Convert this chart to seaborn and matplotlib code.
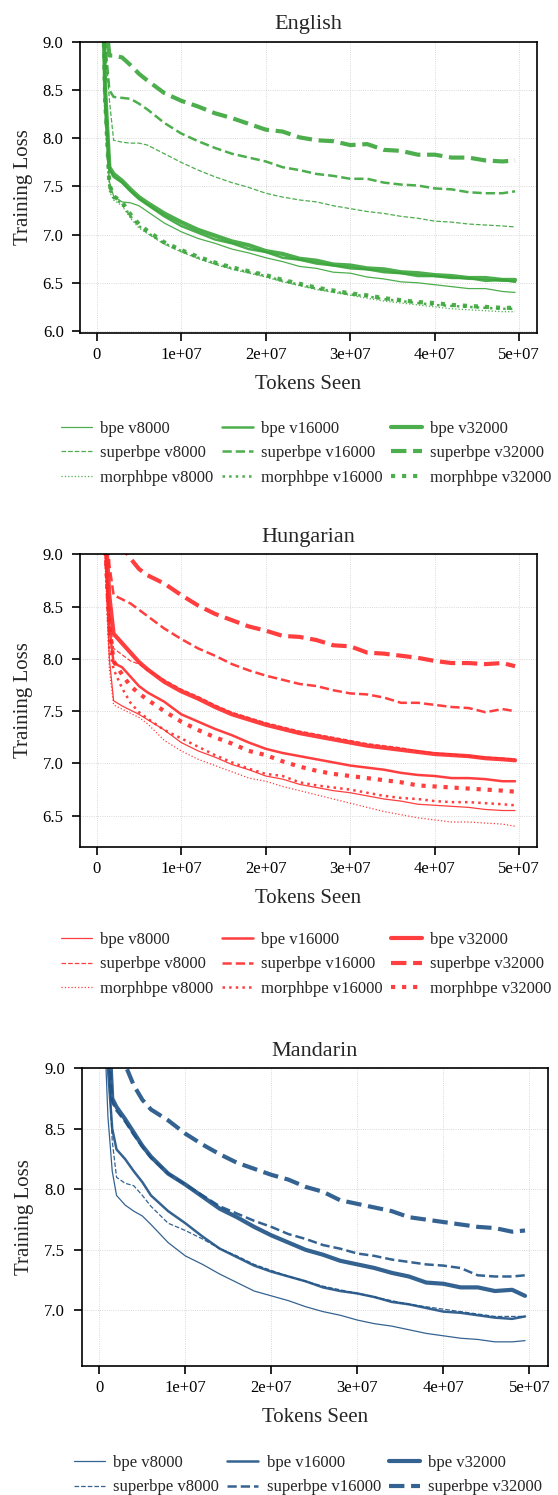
import matplotlib
matplotlib.use("Agg")
import matplotlib.pyplot as plt
import seaborn as sns
from matplotlib.ticker import FuncFormatter, FixedLocator

# ---------------- data ----------------
tokens = [0.5e6, 1.0e6, 1.5e6, 2e6, 3e6, 4e6, 5e6, 6e6, 8e6, 10e6, 12e6, 14e6, 16e6, 18e6,
          20e6, 22e6, 24e6, 26e6, 28e6, 30e6, 32e6, 34e6, 36e6, 38e6, 40e6, 42e6, 44e6,
          46e6, 48e6, 49.5e6]

# English
en_bpe_8000 = [10.4, 8.4, 7.55, 7.40, 7.34, 7.33, 7.30, 7.24, 7.12, 7.03, 6.96, 6.91, 6.85, 6.81,
               6.76, 6.72, 6.67, 6.65, 6.61, 6.60, 6.56, 6.54, 6.51, 6.50, 6.48, 6.46, 6.44, 6.44, 6.41, 6.40]
en_bpe_16000 = [10.5, 8.4, 7.68, 7.60, 7.54, 7.45, 7.37, 7.31, 7.19, 7.09, 7.02, 6.95, 6.91, 6.85,
                6.82, 6.76, 6.74, 6.70, 6.68, 6.65, 6.64, 6.61, 6.60, 6.57, 6.57, 6.55, 6.55, 6.52, 6.53, 6.51]
en_bpe_32000 = [10.5, 8.5, 7.70, 7.63, 7.56, 7.47, 7.39, 7.33, 7.22, 7.13, 7.05, 6.99, 6.93, 6.89,
                6.83, 6.80, 6.75, 6.73, 6.69, 6.68, 6.65, 6.64, 6.61, 6.60, 6.58, 6.57, 6.55, 6.55, 6.53, 6.53]
en_super_8000 = [10.4, 9.0, 8.40, 7.98, 7.96, 7.95, 7.95, 7.93, 7.84, 7.75, 7.67, 7.60, 7.54, 7.49,
                 7.43, 7.39, 7.36, 7.34, 7.30, 7.27, 7.24, 7.22, 7.19, 7.17, 7.14, 7.13, 7.11, 7.10, 7.09, 7.08]
en_super_16000 = [10.5, 9.0, 8.50, 8.43, 8.42, 8.41, 8.36, 8.30, 8.16, 8.05, 7.97, 7.90, 7.84, 7.80,
                  7.76, 7.70, 7.67, 7.63, 7.61, 7.58, 7.58, 7.54, 7.52, 7.51, 7.48, 7.47, 7.44, 7.43, 7.43, 7.45]
en_super_32000 = [10.6, 9.3, 8.86, 8.86, 8.84, 8.76, 8.67, 8.60, 8.47, 8.39, 8.33, 8.26, 8.21, 8.15,
                  8.09, 8.07, 8.01, 7.98, 7.97, 7.93, 7.94, 7.88, 7.87, 7.83, 7.83, 7.80, 7.80, 7.77, 7.76, 7.77]
en_morph_8000 = [10.3, 8.3, 7.45, 7.36, 7.30, 7.17, 7.07, 7.01, 6.90, 6.82, 6.75, 6.69, 6.64, 6.60,
                 6.56, 6.51, 6.47, 6.43, 6.40, 6.37, 6.34, 6.31, 6.29, 6.27, 6.25, 6.23, 6.22, 6.21, 6.20, 6.20]
en_morph_16000 = [10.4, 8.3, 7.48, 7.38, 7.32, 7.19, 7.09, 7.02, 6.91, 6.83, 6.76, 6.70, 6.65, 6.61,
                  6.57, 6.52, 6.48, 6.44, 6.41, 6.38, 6.36, 6.33, 6.31, 6.29, 6.27, 6.26, 6.25, 6.24, 6.23, 6.23]
en_morph_32000 = [10.4, 8.4, 7.52, 7.40, 7.34, 7.21, 7.11, 7.04, 6.92, 6.84, 6.77, 6.71, 6.66, 6.62,
                  6.58, 6.53, 6.49, 6.45, 6.42, 6.39, 6.37, 6.34, 6.32, 6.30, 6.29, 6.27, 6.26, 6.25, 6.24, 6.24]

# Hungarian
hu_bpe_8000 = [10.3, 9.0, 8.0, 7.60, 7.55, 7.51, 7.47, 7.42, 7.32, 7.20, 7.12, 7.06, 6.99, 6.94,
               6.88, 6.85, 6.80, 6.77, 6.74, 6.72, 6.69, 6.66, 6.64, 6.61, 6.60, 6.59, 6.58, 6.56, 6.55, 6.55]
hu_bpe_16000 = [10.4, 9.1, 8.3, 7.96, 7.92, 7.83, 7.74, 7.68, 7.59, 7.47, 7.40, 7.33, 7.27, 7.20,
                7.14, 7.10, 7.07, 7.04, 7.01, 6.98, 6.96, 6.94, 6.91, 6.89, 6.88, 6.86, 6.86, 6.85, 6.83, 6.83]
hu_bpe_32000 = [10.5, 9.3, 8.6, 8.24, 8.15, 8.06, 7.97, 7.90, 7.78, 7.69, 7.62, 7.54, 7.47, 7.42,
                7.37, 7.33, 7.29, 7.26, 7.23, 7.20, 7.17, 7.15, 7.13, 7.11, 7.09, 7.08, 7.07, 7.05, 7.04, 7.03]
hu_super_8000 = [10.4, 9.3, 8.4, 8.10, 8.04, 7.98, 7.95, 7.89, 7.80, 7.71, 7.64, 7.56, 7.49, 7.44,
                 7.39, 7.35, 7.31, 7.28, 7.25, 7.22, 7.19, 7.17, 7.15, 7.12, 7.10, 7.09, 7.07, 7.06, 7.05, 7.04]
hu_super_16000 = [10.6, 9.6, 8.9, 8.61, 8.57, 8.53, 8.47, 8.41, 8.29, 8.19, 8.10, 8.03, 7.95, 7.89,
                  7.84, 7.80, 7.76, 7.74, 7.70, 7.67, 7.66, 7.63, 7.58, 7.58, 7.56, 7.54, 7.53, 7.49, 7.52, 7.50]
hu_super_32000 = [10.8, 10.2, 9.7, 9.4, 9.08, 8.96, 8.86, 8.80, 8.72, 8.61, 8.51, 8.43, 8.37, 8.31,
                  8.27, 8.22, 8.21, 8.18, 8.13, 8.12, 8.06, 8.05, 8.03, 8.01, 7.98, 7.96, 7.96, 7.95, 7.96, 7.93]
hu_morph_8000 = [10.3, 8.9, 7.9, 7.56, 7.52, 7.48, 7.44, 7.38, 7.22, 7.12, 7.04, 6.98, 6.92, 6.86,
                 6.83, 6.78, 6.74, 6.70, 6.66, 6.62, 6.58, 6.54, 6.51, 6.48, 6.46, 6.44, 6.44, 6.43, 6.42, 6.40]
hu_morph_16000 = [10.4, 9.0, 8.1, 7.90, 7.72, 7.58, 7.49, 7.43, 7.32, 7.24, 7.16, 7.08, 7.01, 6.95,
                  6.90, 6.88, 6.82, 6.79, 6.77, 6.75, 6.72, 6.69, 6.67, 6.66, 6.64, 6.63, 6.63, 6.62, 6.61, 6.60]
hu_morph_32000 = [10.4, 9.1, 8.3, 7.98, 7.85, 7.74, 7.67, 7.61, 7.50, 7.40, 7.32, 7.25, 7.19, 7.12,
                  7.08, 7.02, 6.97, 6.93, 6.90, 6.88, 6.86, 6.84, 6.82, 6.79, 6.78, 6.77, 6.76, 6.75, 6.74, 6.73]

# Mandarin
zh_bpe_8000 = [9.5, 8.6, 8.15, 7.95, 7.87, 7.82, 7.78, 7.71, 7.56, 7.45, 7.38, 7.30, 7.23, 7.16,
               7.12, 7.08, 7.03, 6.99, 6.96, 6.92, 6.89, 6.87, 6.84, 6.81, 6.79, 6.77, 6.76, 6.74, 6.74, 6.75]
zh_bpe_16000 = [10.3, 9.0, 8.50, 8.33, 8.25, 8.15, 8.06, 7.95, 7.82, 7.72, 7.61, 7.51, 7.44, 7.37,
                7.32, 7.28, 7.24, 7.19, 7.16, 7.14, 7.11, 7.07, 7.05, 7.02, 6.99, 6.98, 6.96, 6.94, 6.93, 6.95]
zh_bpe_32000 = [10.5, 9.5, 8.75, 8.68, 8.58, 8.47, 8.36, 8.27, 8.13, 8.04, 7.94, 7.84, 7.77, 7.69,
                7.62, 7.56, 7.50, 7.46, 7.41, 7.38, 7.35, 7.31, 7.28, 7.23, 7.22, 7.19, 7.19, 7.16, 7.17, 7.12]
zh_super_8000 = [10.3, 9.2, 8.4, 8.10, 8.05, 8.03, 7.95, 7.86, 7.72, 7.66, 7.59, 7.51, 7.45, 7.38,
                 7.33, 7.28, 7.24, 7.20, 7.17, 7.14, 7.11, 7.08, 7.05, 7.03, 7.01, 6.99, 6.97, 6.95, 6.95, 6.95]
zh_super_16000 = [10.4, 9.4, 8.72, 8.65, 8.56, 8.45, 8.35, 8.26, 8.13, 8.04, 7.95, 7.86, 7.80, 7.74,
                  7.69, 7.63, 7.59, 7.54, 7.51, 7.47, 7.45, 7.42, 7.40, 7.38, 7.37, 7.35, 7.29, 7.28, 7.28, 7.29]
zh_super_32000 = [10.8, 10.0, 9.6, 9.3, 9.03, 8.86, 8.74, 8.66, 8.57, 8.46, 8.37, 8.29, 8.22, 8.17,
                  8.12, 8.08, 8.02, 7.98, 7.91, 7.88, 7.85, 7.82, 7.77, 7.75, 7.73, 7.71, 7.69, 7.68, 7.65, 7.66]

vocab_sizes = ["v8000", "v16000", "v32000"]
methods = ["bpe", "superbpe", "morphbpe"]
x_ticks = [0, 1e7, 2e7, 3e7, 4e7, 5e7]

panels = [
    dict(title="English", color="#3aa53a",
         series={("bpe", "v8000"): en_bpe_8000, ("bpe", "v16000"): en_bpe_16000, ("bpe", "v32000"): en_bpe_32000,
                 ("superbpe", "v8000"): en_super_8000, ("superbpe", "v16000"): en_super_16000,
                 ("superbpe", "v32000"): en_super_32000,
                 ("morphbpe", "v8000"): en_morph_8000, ("morphbpe", "v16000"): en_morph_16000,
                 ("morphbpe", "v32000"): en_morph_32000},
         methods=methods, yticks=[6.0, 6.5, 7.0, 7.5, 8.0, 8.5, 9.0], ylim=(5.982, 9.0),
         rect=[80.3, 42.0, 536.7, 332.7], xlim=(-1.94e6, 5.206e7), leg=(61, 421)),
    dict(title="Hungarian", color="#ff2a2a",
         series={("bpe", "v8000"): hu_bpe_8000, ("bpe", "v16000"): hu_bpe_16000, ("bpe", "v32000"): hu_bpe_32000,
                 ("superbpe", "v8000"): hu_super_8000, ("superbpe", "v16000"): hu_super_16000,
                 ("superbpe", "v32000"): hu_super_32000,
                 ("morphbpe", "v8000"): hu_morph_8000, ("morphbpe", "v16000"): hu_morph_16000,
                 ("morphbpe", "v32000"): hu_morph_32000},
         methods=methods, yticks=[6.5, 7.0, 7.5, 8.0, 8.5, 9.0], ylim=(6.204, 9.0),
         rect=[80.3, 554.3, 536.7, 846.7], xlim=(-1.94e6, 5.206e7), leg=(61, 932)),
    dict(title="Mandarin", color="#1f5285",
         series={("bpe", "v8000"): zh_bpe_8000, ("bpe", "v16000"): zh_bpe_16000, ("bpe", "v32000"): zh_bpe_32000,
                 ("superbpe", "v8000"): zh_super_8000, ("superbpe", "v16000"): zh_super_16000,
                 ("superbpe", "v32000"): zh_super_32000},
         methods=["bpe", "superbpe"], yticks=[7.0, 7.5, 8.0, 8.5, 9.0], ylim=(6.543, 9.0),
         rect=[81.7, 1068.3, 548.0, 1365.7], xlim=(-2.05e6, 5.217e7), leg=(74, 1455)),
]

# ---------------- style ----------------
W, H = 558, 1495
sns.set_theme(style="ticks")
plt.rcParams["font.family"] = ["Liberation Serif", "DejaVu Serif"]
plt.rcParams["axes.linewidth"] = 1.2
plt.rcParams["xtick.major.width"] = 1.2
plt.rcParams["ytick.major.width"] = 1.2
plt.rcParams["xtick.major.size"] = 6
plt.rcParams["ytick.major.size"] = 6
plt.rcParams["xtick.major.pad"] = 4
plt.rcParams["ytick.major.pad"] = 6
plt.rcParams["axes.edgecolor"] = "black"

widths = {"v8000": 0.9, "v16000": 1.8, "v32000": 3.0}
styles = {"bpe": "-", "superbpe": "--", "morphbpe": ":"}

fig = plt.figure(figsize=(W / 100, H / 100), dpi=100)

def xfmt(v, pos):
    return "0" if v == 0 else f"{v:.0e}"

for p in panels:
    l, t, r, b = p["rect"]
    ax = fig.add_axes([l / W, 1 - b / H, (r - l) / W, (b - t) / H])
    for v in vocab_sizes:
        for m in p["methods"]:
            y = p["series"][(m, v)]
            sns.lineplot(x=tokens, y=y, ax=ax, color=p["color"], linewidth=widths[v],
                         linestyle=styles[m], alpha=0.9, label=f"{m} {v}", legend=False)
    h, lab = ax.get_legend_handles_labels()
    ax.set_xlim(*p["xlim"])
    ax.set_ylim(*p["ylim"])
    ax.xaxis.set_major_locator(FixedLocator(x_ticks))
    ax.xaxis.set_major_formatter(FuncFormatter(xfmt))
    ax.yaxis.set_major_locator(FixedLocator(p["yticks"]))
    ax.yaxis.set_major_formatter(FuncFormatter(lambda v, pos: f"{v:.1f}"))
    ax.tick_params(axis="both", labelsize=12, color="black", labelcolor="black", direction="out")
    ax.grid(True, linestyle=":", linewidth=0.6, color="#cccccc")
    for s in ax.spines.values():
        s.set_visible(True)
        s.set_color("black")
        s.set_linewidth(1.2)
    ax.set_title(p["title"], fontsize=16, pad=9)
    ax.set_xlabel("Tokens Seen", fontsize=15, labelpad=9)
    ax.set_ylabel("Training Loss", fontsize=15, labelpad=7)
    lx, ly = p["leg"]
    fig.legend(h, lab, loc="upper left", bbox_to_anchor=(lx / W, 1 - ly / H),
               bbox_transform=fig.transFigure, ncol=3, frameon=False, fontsize=12,
               borderaxespad=0, borderpad=0, columnspacing=0.5, handletextpad=0.5,
               handlelength=1.85, labelspacing=0.5)

fig.savefig("out.png", dpi=100)
